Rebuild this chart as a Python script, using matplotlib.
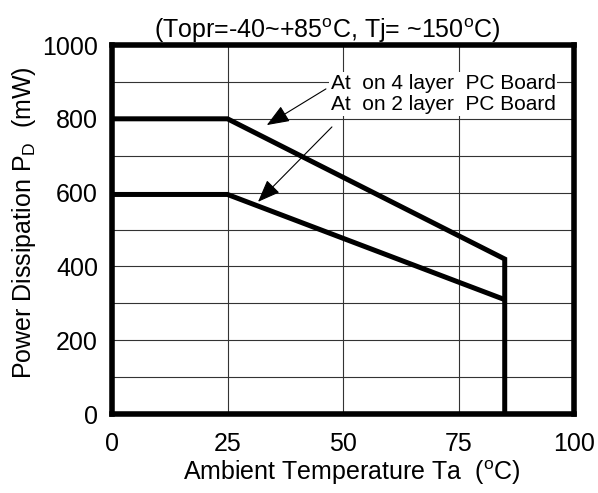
import matplotlib
matplotlib.use("Agg")
import matplotlib.pyplot as plt

# Derating curves
temp_4layer = [0, 25, 85, 85]
power_4layer = [800, 800, 420, 0]
temp_2layer = [0, 25, 85]
power_2layer = [595, 595, 310]

x_ticks = [0, 25, 50, 75, 100]
y_ticks = [0, 200, 400, 600, 800, 1000]
x_grid = [25, 50, 75]
y_grid = [100, 200, 300, 400, 500, 600, 700, 800, 900]

label_4layer = "At  on 4 layer  PC Board"
label_2layer = "At  on 2 layer  PC Board"

plt.rcParams['font.family'] = ['Liberation Sans', 'DejaVu Sans']

fig = plt.figure(figsize=(5.98, 4.93), dpi=100)
ax = fig.add_axes([0.1873, 0.1602, 0.7726, 0.7485])

for x in x_grid:
    ax.axvline(x, color='#333333', linewidth=0.8, zorder=1)
for y in y_grid:
    ax.axhline(y, color='#333333', linewidth=0.8, zorder=1)

ax.plot(temp_4layer, power_4layer, color='black', linewidth=3.6,
        solid_joinstyle='miter', solid_capstyle='butt', zorder=3)
ax.plot(temp_2layer, power_2layer, color='black', linewidth=3.6,
        solid_joinstyle='miter', solid_capstyle='butt', zorder=3)

ax.set_xlim(0, 100)
ax.set_ylim(0, 1000)
ax.set_xticks(x_ticks)
ax.set_yticks(y_ticks)
ax.tick_params(length=0, labelsize=18)
ax.tick_params(axis='y', pad=10)
ax.tick_params(axis='x', pad=13)
for s in ax.spines.values():
    s.set_linewidth(4)

ax.set_xlabel("Ambient Temperature Ta  ($^\\mathregular{o}$C)", fontsize=18,
              labelpad=2, x=0.52)
ax.set_ylabel("Power Dissipation P$_\\mathregular{D}$  (mW)", fontsize=18,
              labelpad=3, y=0.52)
ax.set_title("(Topr=-40~+85$^\\mathregular{o}$C, Tj= ~150$^\\mathregular{o}$C)",
             fontsize=18, pad=3, x=0.465)

bbox = dict(facecolor='white', edgecolor='none', pad=1)
ax.text(47.3, 897, label_4layer, fontsize=15, va='center', ha='left',
        bbox=bbox, zorder=4)
ax.text(47.3, 838, label_2layer, fontsize=15, va='center', ha='left',
        bbox=bbox, zorder=4)

arrow = dict(arrowstyle='-|>,head_length=1.4,head_width=0.55', color='black',
             linewidth=0.8, shrinkA=0, shrinkB=0)
ax.annotate('', xy=(33.5, 783), xytext=(46.3, 881), arrowprops=arrow, zorder=5)
ax.annotate('', xy=(31.6, 575), xytext=(47.6, 778), arrowprops=arrow, zorder=5)

fig.savefig("out.png", dpi=100)
